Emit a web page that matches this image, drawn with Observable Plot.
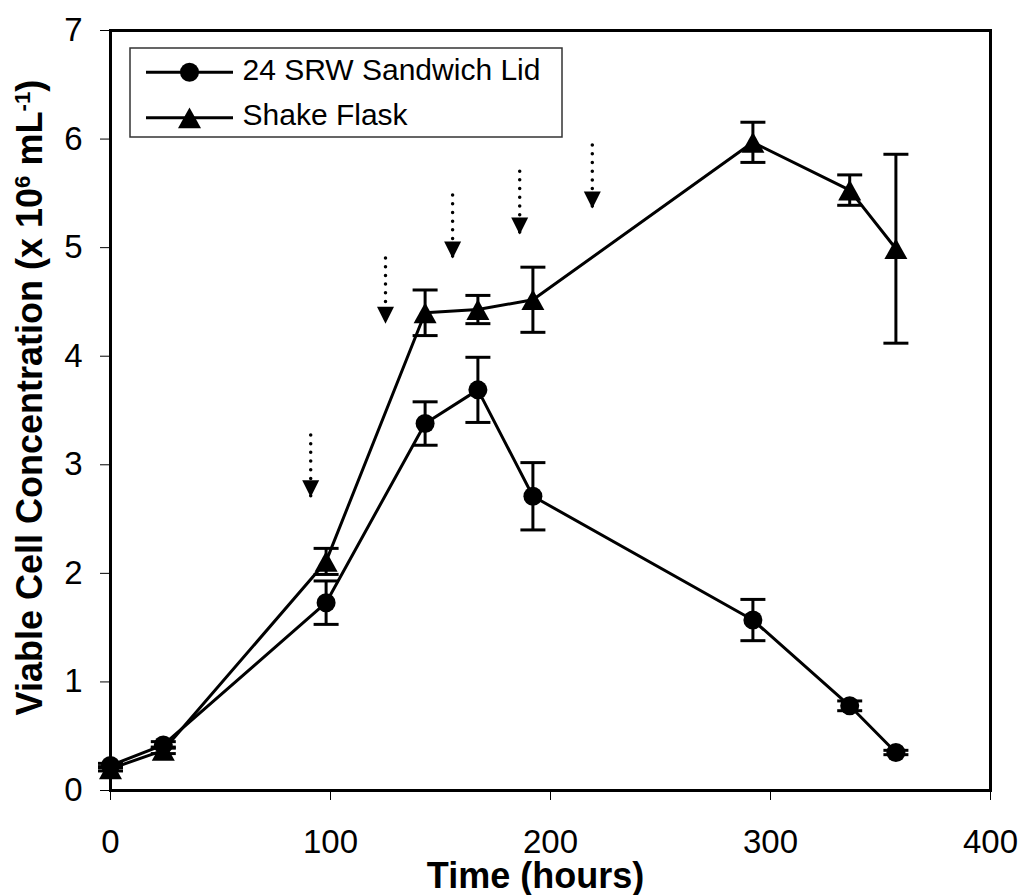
<!DOCTYPE html>
<html><head><meta charset="utf-8">
<script src="https://cdn.jsdelivr.net/npm/d3@7"></script>
<script src="https://cdn.jsdelivr.net/npm/@observablehq/plot@0.6"></script>
<style>body{margin:0;background:#fff}</style>
</head><body><div id="chart"></div>
<script>
// ---- data ----
const hours      = [0, 24, 98, 143, 167, 192, 292, 336, 357];
const srwMean    = [0.23, 0.42, 1.73, 3.38, 3.69, 2.71, 1.57, 0.78, 0.35];
const srwErr     = [0.02, 0.03, 0.20, 0.20, 0.30, 0.31, 0.19, 0.045, 0.02];
const flaskMean  = [0.20, 0.37, 2.11, 4.40, 4.43, 4.52, 5.97, 5.53, 4.99];
const flaskErr   = [0.02, 0.03, 0.12, 0.21, 0.13, 0.30, 0.185, 0.14, 0.87];
const arrowHours = [91, 125, 155.5, 186, 219];
const arrowTop   = [3.27, 4.90, 5.48, 5.70, 5.94];
const arrowTip   = [2.70, 4.30, 4.90, 5.12, 5.36];
const seriesNames = ["24 SRW Sandwich Lid", "Shake Flask"];
const xTicks = [0, 100, 200, 300, 400];
const yTicks = [0, 1, 2, 3, 4, 5, 6, 7];
const xTitle = "Time (hours)";
const yTitleParts = ["Viable Cell Concentration (x 10", "6", " mL", "-1", ")"];
const yTitle = "Viable Cell Concentration (x 10⁶ mL⁻¹)";

// ---- layout ----
const W = 1023, H = 895, mL = 110, mR = 33, mT = 30, mB = 105;
const px2x = px => (px - mL) / (W - mL - mR) * 400;
const px2y = py => (H - mB - py) / (H - mT - mB) * 7;

// custom symbols
const capSym = {draw(ctx, size) { const r = Math.sqrt(size / Math.PI); ctx.moveTo(-r, 0); ctx.lineTo(r, 0); }};
const triSym = {draw(ctx, size) { const r = Math.sqrt(size / Math.PI); const h = 1.8 * r;
  ctx.moveTo(0, -h / 2); ctx.lineTo(r, h / 2); ctx.lineTo(-r, h / 2); ctx.closePath(); }};
const downSym = {draw(ctx, size) { const r = Math.sqrt(size / Math.PI);
  ctx.moveTo(0, 0); ctx.lineTo(r, -2 * r); ctx.lineTo(-r, -2 * r); ctx.closePath(); }};

const srw = hours.map((t, i) => ({t, y: srwMean[i], e: srwErr[i]}));
const flask = hours.map((t, i) => ({t, y: flaskMean[i], e: flaskErr[i]}));
const arrows = arrowHours.map((t, i) => ({t, top: arrowTop[i], tip: arrowTip[i]}));
const legendRows = seriesNames.map((name, i) => ({name, y: px2y(i === 0 ? 71.7 : 117.3)}));

function errorMarks(data) {
  return [
    Plot.ruleX(data, {x: "t", y1: d => d.y - d.e, y2: d => d.y + d.e, stroke: "black", strokeWidth: 3}),
    Plot.dot(data, {x: "t", y: d => d.y + d.e, symbol: capSym, r: 12.5, fill: "none", stroke: "black", strokeWidth: 3}),
    Plot.dot(data, {x: "t", y: d => d.y - d.e, symbol: capSym, r: 12.5, fill: "none", stroke: "black", strokeWidth: 3})
  ];
}

const plot = Plot.plot({
  width: W, height: H,
  marginLeft: mL, marginRight: mR, marginTop: mT, marginBottom: mB,
  style: {fontFamily: "'Liberation Sans', Arial, sans-serif", background: "white", color: "black", overflow: "visible"},
  x: {domain: [0, 400], label: null},
  y: {domain: [0, 7], label: null},
  marks: [
    Plot.axisX({ticks: xTicks, tickSize: 10, tickPadding: 29, fontSize: 33, label: null, tickFormat: d => String(d)}),
    Plot.axisY({ticks: yTicks, tickSize: 10, tickPadding: 18, fontSize: 33, label: null, tickFormat: d => String(d)}),
    Plot.frame({stroke: "black", strokeWidth: 3}),
    // arrows
    Plot.ruleX(arrows, {x: "t", y1: "top", y2: "tip", stroke: "black", strokeWidth: 3.5, strokeDasharray: "0 8.7", strokeLinecap: "round"}),
    Plot.dot(arrows, {x: "t", y: "tip", symbol: downSym, r: 8.5, fill: "black", stroke: "none"}),
    // series
    ...errorMarks(flask),
    ...errorMarks(srw),
    Plot.line(flask, {x: "t", y: "y", stroke: "black", strokeWidth: 3}),
    Plot.line(srw, {x: "t", y: "y", stroke: "black", strokeWidth: 3}),
    Plot.dot(flask, {x: "t", y: "y", symbol: triSym, r: 11.5, fill: "black", stroke: "none"}),
    Plot.dot(srw, {x: "t", y: "y", symbol: "circle", r: 9.5, fill: "black", stroke: "none"}),
    // legend
    Plot.rect([0], {x1: px2x(130), x2: px2x(562), y1: px2y(48), y2: px2y(137), fill: "white", stroke: "#333", strokeWidth: 1.5}),
    Plot.ruleY(legendRows, {y: "y", x1: px2x(146), x2: px2x(233), stroke: "black", strokeWidth: 3}),
    Plot.dot(legendRows.slice(0, 1), {x: px2x(189), y: "y", symbol: "circle", r: 9.5, fill: "black", stroke: "none"}),
    Plot.dot(legendRows.slice(1, 2), {x: px2x(189), y: "y", symbol: triSym, r: 11.5, fill: "black", stroke: "none"}),
    Plot.text(legendRows, {x: px2x(242), y: "y", text: "name", textAnchor: "start", fontSize: 30, dy: -2, fill: "black"}),
    // titles
    Plot.text([xTitle], {frameAnchor: "bottom", textAnchor: "middle", lineAnchor: "middle", dx: -15, dy: 86, fontSize: 36, fontWeight: "bold", fill: "black"}),
    Plot.text([yTitle], {frameAnchor: "left", textAnchor: "middle", lineAnchor: "middle", rotate: -90, dx: -80, dy: -13, fontSize: 36, fontWeight: "bold", fill: "black"})
  ]
});
document.getElementById("chart").appendChild(plot);

// superscripts in the y title
d3.select(plot).selectAll("text").filter(function() { return this.textContent === yTitle; }).each(function() {
  const t = d3.select(this);
  t.text(null);
  yTitleParts.forEach((p, i) => {
    const s = t.append("tspan").text(p);
    if (i % 2 === 1) s.attr("font-size", "0.62em").attr("baseline-shift", "super");
  });
});
</script>
</body></html>
